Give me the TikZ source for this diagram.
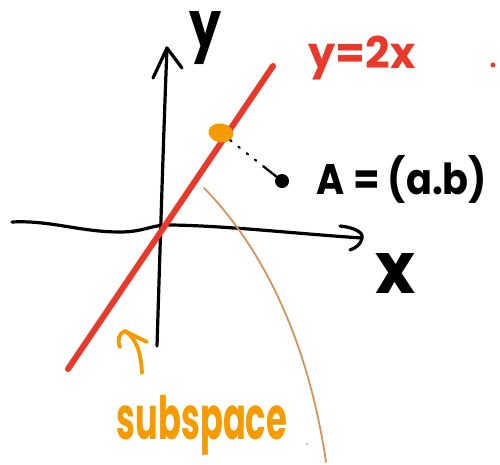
\documentclass[tikz,border=0pt]{standalone}
\usepackage{fontspec}
\setmainfont{Poppins}
\usetikzlibrary{shapes.geometric,calc}
\definecolor{penred}{HTML}{E8392A}
\definecolor{penorange}{HTML}{F59B00}
\definecolor{penbrown}{HTML}{D4935A}
\tikzset{
  axis/.style={line width=3.2pt, black},
  redline/.style={line width=6pt, penred},
  hand/.style={inner sep=0pt, outer sep=0pt, font=\bfseries},
  blob/.style={ellipse, fill=penorange, minimum width=25pt, minimum height=19pt, inner sep=0pt, rotate=-10},
  pointdot/.style={circle, fill=black, minimum size=14pt, inner sep=0pt},
  orangepen/.style={line width=3.8pt, penorange},
  brownpen/.style={line width=1.8pt, penbrown},
}
\begin{document}
\begin{tikzpicture}[x=1pt,y=-1pt,line cap=round,line join=round]
\useasboundingbox (0,0) rectangle (500,464);
% y axis
\coordinate (ybot) at (157,346);
\coordinate (ytop) at (167,48);
\draw[axis] (ybot) .. controls (160,250) and (164,120) .. (ytop);
\draw[axis] ($(ytop)+(-14,30)$) -- (ytop) -- ($(ytop)+(15,20)$);
\node[hand] (ylab) at (206,38) {\resizebox*{32pt}{53pt}{y}};
% x axis
\coordinate (xleft) at (12,222);
\coordinate (xright) at (362,238);
\draw[axis] (xleft) .. controls (50,220) and (80,232) .. (120,232)
  .. controls (145,232) and (152,224) .. (172,225)
  .. controls (230,226) and (300,234) .. (xright);
\draw[axis] (340,226) .. controls (352,227) and (364,232) .. (xright)
  .. controls (361,244) and (356,248) .. (350,250);
\node[hand] (xlab) at (395,273) {\resizebox*{40pt}{40pt}{x}};
% red line
\coordinate (rbot) at (68,369);
\coordinate (rtop) at (273,66);
\draw[redline] (rbot) -- (rtop);
\node[hand, text=penred] (eq) at (362,58) {\resizebox*{107pt}{44pt}{y=2x}};
\fill[penred] (493,65) circle (2.5pt);
% projection
\node[blob] (P) at (221,133) {};
\node[pointdot] (A) at (282,181) {};
\path (P) -- (A) coordinate[pos=0.72] (m);
\draw[line width=2.3pt, dash pattern=on 1.5pt off 9pt] (P) -- (m);
\draw[line width=2.3pt] (m) -- (A);
\node[hand] (Alab) at (402,179) {\resizebox*{170pt}{48pt}{A = (a.b)}};
% brown curve
\coordinate (cstart) at (204,188);
\coordinate (cend) at (326,462);
\draw[brownpen] (cstart) .. controls (250,235) and (305,320) .. (cend);
% subspace arrow and label
\coordinate (atail) at (142,373);
\coordinate (atip) at (125,331);
\draw[orangepen] (atail) .. controls (141,352) and (136,338) .. (atip);
\draw[orangepen] (120,347) .. controls (117,340) and (119,333) .. (atip) -- (147,342);
\node[hand, text=penorange] (sub) at (202,425) {\resizebox*{170pt}{60pt}{subspace}};
\fill[penbrown] (307,444) circle (1pt);
\end{tikzpicture}
\end{document}
